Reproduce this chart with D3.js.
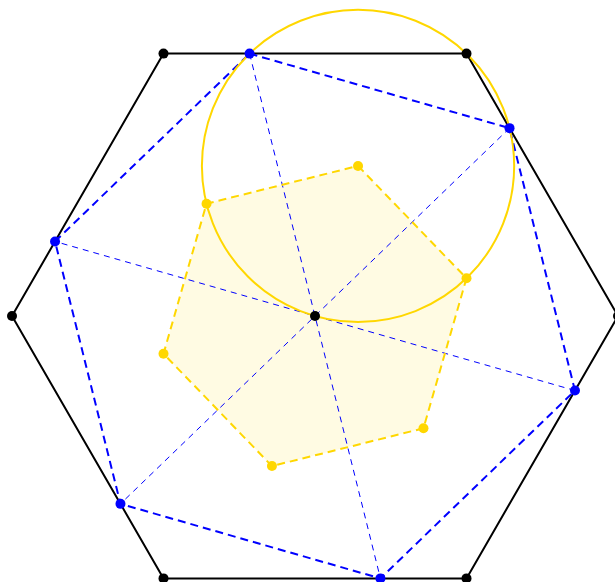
<!DOCTYPE html>
<html>
<head>
<meta charset="utf-8">
<script src="https://cdn.jsdelivr.net/npm/d3@7"></script>
<style>
  body { margin: 0; background: #fff; }
  svg { display: block; }
</style>
</head>
<body>
<div id="chart"></div>
<script>
// Polar data (unit = radius of the outer hexagon, angles in degrees)
const hexAngles = [0, 60, 120, 180, 240, 300];
const hexRadius = 1;
const blueAngles = [104, 44, -16, -76, -136, 164];
const blueRadius = 0.8925;
const goldAngles = [74, 14, -46, -106, -166, 134];
const goldRadius = 0.5153;
const diagonals = [[0, 3], [1, 4], [2, 5]]; // blue vertex pairs through centre
const circleCenter = 0; // gold vertex used as circle centre

const width = 615;
const height = 582;

const x = d3.scaleLinear().domain([-1, 1]).range([12, 618]);
const y = d3.scaleLinear().domain([-1, 1]).range([619, 13]);
const rPx = (r) => x(r) - x(0);

const toXY = (r, deg) => {
  const a = (deg * Math.PI) / 180;
  return [x(r * Math.cos(a)), y(r * Math.sin(a))];
};

const hexPts = hexAngles.map((a) => toXY(hexRadius, a));
const bluePts = blueAngles.map((a) => toXY(blueRadius, a));
const goldPts = goldAngles.map((a) => toXY(goldRadius, a));
const centre = [x(0), y(0)];

const svg = d3
  .select("#chart")
  .append("svg")
  .attr("width", width)
  .attr("height", height);

const line = d3.line().curve(d3.curveLinearClosed);

// Gold hexagon fill
svg
  .append("path")
  .attr("d", line(goldPts))
  .attr("fill", "#ffd700")
  .attr("fill-opacity", 0.11)
  .attr("stroke", "none");

// Outer hexagon
svg
  .append("path")
  .attr("d", line(hexPts))
  .attr("fill", "none")
  .attr("stroke", "#000")
  .attr("stroke-width", 2);

// Thin diagonals
diagonals.forEach(([i, j]) => {
  svg
    .append("line")
    .attr("x1", bluePts[i][0])
    .attr("y1", bluePts[i][1])
    .attr("x2", bluePts[j][0])
    .attr("y2", bluePts[j][1])
    .attr("stroke", "#0000ff")
    .attr("stroke-width", 1)
    .attr("stroke-dasharray", "6,5");
});

// Blue inscribed hexagon
svg
  .append("path")
  .attr("d", line(bluePts))
  .attr("fill", "none")
  .attr("stroke", "#0000ff")
  .attr("stroke-width", 2)
  .attr("stroke-dasharray", "8,5");

// Gold hexagon outline
svg
  .append("path")
  .attr("d", line(goldPts))
  .attr("fill", "none")
  .attr("stroke", "#ffd700")
  .attr("stroke-width", 2)
  .attr("stroke-dasharray", "8,5");

// Circle centred on a gold vertex
svg
  .append("circle")
  .attr("cx", goldPts[circleCenter][0])
  .attr("cy", goldPts[circleCenter][1])
  .attr("r", rPx(goldRadius))
  .attr("fill", "none")
  .attr("stroke", "#ffd700")
  .attr("stroke-width", 2);

// Dots
const dots = (pts, color) => {
  svg
    .append("g")
    .selectAll("circle")
    .data(pts)
    .join("circle")
    .attr("cx", (d) => d[0])
    .attr("cy", (d) => d[1])
    .attr("r", 5)
    .attr("fill", color);
};

dots(hexPts, "#000");
dots(goldPts, "#ffd700");
dots(bluePts, "#0000ff");
dots([centre], "#000");
</script>
</body>
</html>
